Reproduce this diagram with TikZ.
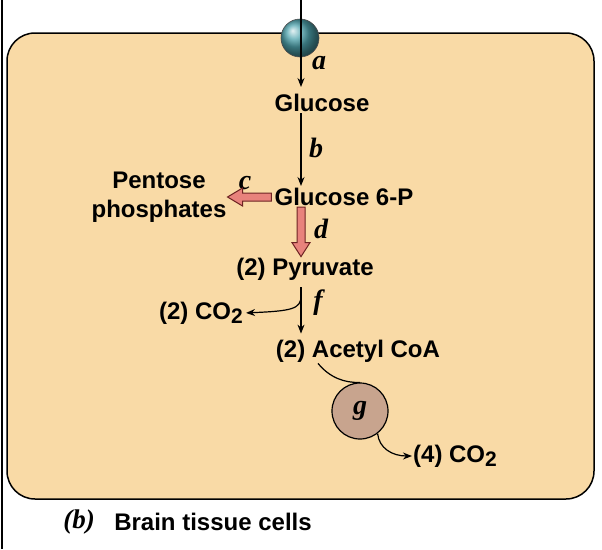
\documentclass[tikz,border=0pt]{standalone}
\usepackage{fontspec}
\setmainfont{Liberation Sans}
\newfontfamily\lblfont{Liberation Serif}
\usetikzlibrary{arrows.meta,calc}
\definecolor{cellfill}{RGB}{249,218,166}
\definecolor{pinkfill}{RGB}{232,130,124}
\definecolor{pinkline}{RGB}{110,35,35}
\definecolor{gfill}{RGB}{200,164,142}
\definecolor{pumpteal}{RGB}{80,165,175}
\newcommand{\cotwo}{CO\raisebox{-0.3ex}{\fontsize{21}{21}\selectfont 2}}
\tikzset{met/.style={inner sep=1pt, font=\fontsize{24}{29}\selectfont\bfseries}}
\tikzset{lbl/.style={inner sep=0pt, font=\lblfont\fontsize{28}{28}\selectfont\bfseries\itshape}}
\tikzset{flow/.style={line width=1.2pt, -{Stealth[length=9pt,width=7pt]}}}
\tikzset{fatarrow/.style={draw=pinkline, fill=pinkfill, line width=1pt, line join=miter}}
\tikzset{cell/.style={draw=black, fill=cellfill, line width=1.5pt, rounded corners=28pt}}

\begin{document}
\begin{tikzpicture}[x=1pt, y=-1pt]
        \useasboundingbox (0,0) rectangle (602,549);
        \draw[line width=1.5pt] (2,0) -- (2,549);
        \draw[cell] (7,33) rectangle (594,499);

        \coordinate (top) at (301,0);
        \node[circle, minimum size=38pt, inner sep=0pt, ball color=pumpteal, draw=black!70, line width=0.6pt] (pump) at (300,38) {};

        \node[met] (glc)  at (322,103) {Glucose};
        \node[met] (gsp)  at (344,197) {Glucose 6-P};
        \node[met, align=center] (pent) at (159,197) {Pentose\\phosphates};
        \node[met] (pyr)  at (305,269) {(2) Pyruvate};
        \node[met] (co2a) at (201,313) {(2) \cotwo};
        \node[met] (acoa) at (358,351) {(2) Acetyl CoA};
        \node[met] (co2b) at (455,456) {(4) \cotwo};
        \node[circle, draw=black, fill=gfill, line width=1.2pt, minimum size=56pt, inner sep=0pt,
              font=\lblfont\fontsize{28}{28}\selectfont\bfseries\itshape] (g) at (360,411) {g};

        \node[lbl] (la) at (319,63)  {a};
        \node[lbl] (lb) at (316,148) {b};
        \node[lbl] (lc) at (245,183) {c};
        \node[lbl] (ld) at (321,229) {d};
        \node[lbl] (lf) at (318,303) {f};

        % plain arrows
        \draw[flow, shorten >=6pt] (top) -- (glc.north -| top);
        \draw[flow, shorten >=1pt] (glc.south -| top) -- (gsp.north -| top);
        \draw[flow, shorten <=6pt, shorten >=5pt] (pyr.south -| top) -- (acoa.north -| top);
        \coordinate (fb) at (301,296);
        \draw[flow, shorten >=2pt] (fb) .. controls (301,309) and (292,311) .. (co2a.east);
        \coordinate (a1) at ($(acoa.south)+(-40,0)$);
        \draw[line width=1.2pt] (a1) .. controls (330,378) and (345,383) .. (g.north);
        \draw[flow] (g.-52) .. controls (379,448) and (392,456) .. (co2b.west);

        % fat arrows
        \draw[fatarrow] ($(gsp.west)+(-2,4)$) -- ($(pent.east)+(15,4)$) -- ($(pent.east)+(15,9)$) -- (pent.east)
            -- ($(pent.east)+(15,-9)$) -- ($(pent.east)+(15,-4)$) -- ($(gsp.west)+(-2,-4)$) -- cycle;
        \coordinate (d0) at (gsp.south -| top);
        \coordinate (d1) at (pyr.north -| top);
        \draw[fatarrow] ($(d0)+(-4,0)$) -- ($(d1)+(-4,-14)$) -- ($(d1)+(-9,-14)$) -- (d1)
            -- ($(d1)+(9,-14)$) -- ($(d1)+(4,-14)$) -- ($(d0)+(4,0)$) -- cycle;

        % caption
        \node[lbl, font=\lblfont\fontsize{27}{27}\selectfont\bfseries\itshape] (capb) at (79,522) {(b)};
        \node[met] (cap) at (213,522) {Brain tissue cells};
    \end{tikzpicture}
\end{document}
